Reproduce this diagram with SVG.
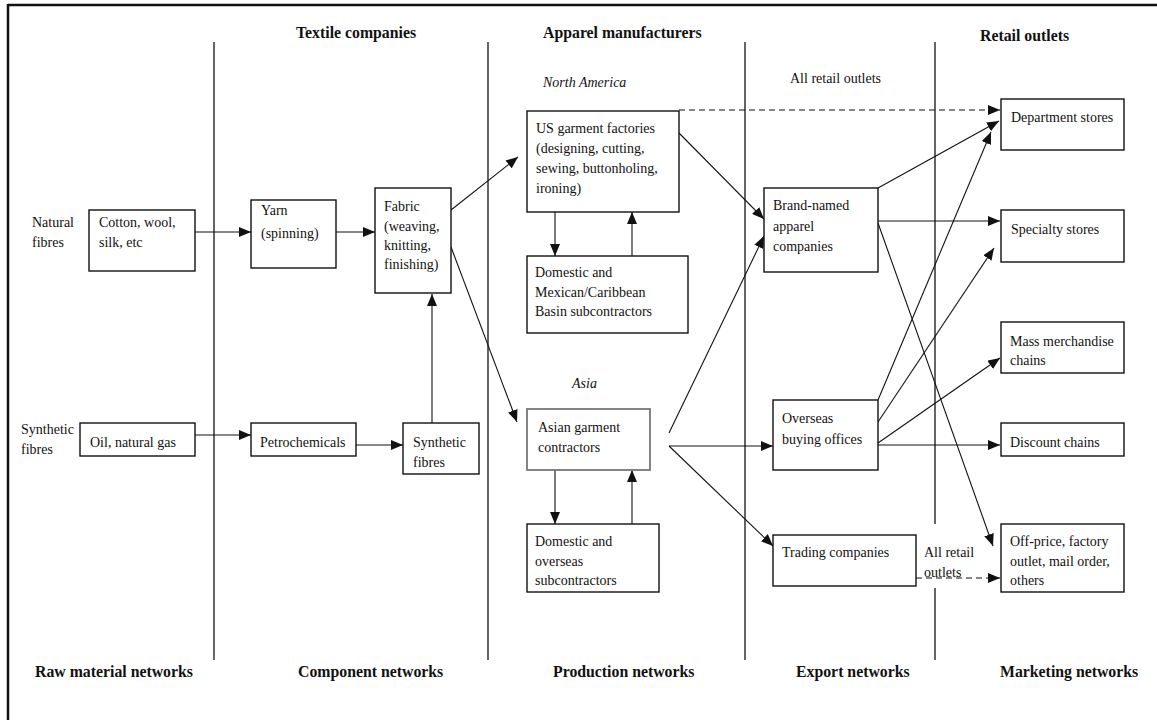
<svg xmlns="http://www.w3.org/2000/svg" width="1157" height="720" viewBox="0 0 1157 720">
<style>
text{font-family:"Liberation Serif","Times New Roman",serif;font-size:14px;fill:#111}
.h{font-weight:bold;font-size:15.8px}
.i{font-style:italic}
.box{fill:#fff;stroke:#111;stroke-width:1.4}
.gbox{fill:#fff;stroke:#777;stroke-width:1.8}
.div{stroke:#111;stroke-width:1.3;fill:none}
.c{stroke:#111;stroke-width:1.1;fill:none;marker-end:url(#ah)}
.d{stroke-dasharray:6 4}
</style>
<defs>
<marker id="ah" viewBox="0 0 12 10" refX="12" refY="5" markerWidth="12" markerHeight="10" markerUnits="userSpaceOnUse" orient="auto">
<path d="M0,0 L12,5 L0,10 z" fill="#111"/>
</marker>
</defs>
<rect width="1157" height="720" fill="#fff"/>
<g id="frame">
<line x1="8" y1="5" x2="1157" y2="5" stroke="#111" stroke-width="2.5"/>
<line x1="8" y1="4" x2="8" y2="720" stroke="#111" stroke-width="2.5"/>
</g>
<g id="dividers">
<line class="div" x1="214" y1="42" x2="214" y2="660"/>
<line class="div" x1="488" y1="42" x2="488" y2="660"/>
<line class="div" x1="745" y1="42" x2="745" y2="660"/>
<line class="div" x1="935" y1="42" x2="935" y2="660"/>
</g>
<g id="headers">
<text class="h" x="296" y="38">Textile companies</text>
<text class="h" x="543" y="38">Apparel manufacturers</text>
<text class="h" x="980" y="41">Retail outlets</text>
<text class="h" x="35" y="677">Raw material networks</text>
<text class="h" x="298" y="677">Component networks</text>
<text class="h" x="553" y="677">Production networks</text>
<text class="h" x="796" y="677">Export networks</text>
<text class="h" x="1000" y="677">Marketing networks</text>
<text class="i" x="543" y="87">North America</text>
<text class="i" x="572" y="388">Asia</text>
<text x="790" y="83">All retail outlets</text>
<text x="32" y="227">Natural</text>
<text x="32" y="247">fibres</text>
<text x="21" y="434">Synthetic</text>
<text x="21" y="454">fibres</text>
</g>
<rect x="921" y="524" width="56" height="64" fill="#fff"/>
<g id="connectors">
<path class="c" d="M195,232 H251"/>
<path class="c" d="M336,232 H375"/>
<path class="c" d="M195,435 H251"/>
<path class="c" d="M356,445 H403"/>
<path class="c" d="M432,423 V294"/>
<path class="c" d="M451,210 L518,157"/>
<path class="c" d="M451,247 L517,422"/>
<path class="c" d="M555,200 V256"/>
<path class="c" d="M632,256 V212"/>
<path class="c" d="M555,470 V524"/>
<path class="c" d="M632,524 V470"/>
<path class="c d" d="M679,110 H1000"/>
<path class="c" d="M679,133 L764,219"/>
<path class="c" d="M669,433 L764,236"/>
<path class="c" d="M669,446 H773"/>
<path class="c" d="M669,446 L773,546"/>
<path class="c" d="M878,188 L999,121"/>
<path class="c" d="M878,221 H1000"/>
<path class="c" d="M878,223 L993,546"/>
<path class="c" d="M878,400 L991,132"/>
<path class="c" d="M878,422 L994,248"/>
<path class="c" d="M878,443 L1000,358"/>
<path class="c" d="M878,445 H1000"/>
<path class="c d" d="M916,578 H1000"/>
</g>
<g id="cotton"><rect class="box" x="89" y="210" width="106" height="61"/><text x="99" y="227">Cotton, wool,</text><text x="99" y="247">silk, etc</text></g>
<g id="yarn"><rect class="box" x="251" y="200" width="85" height="68"/><text x="261" y="215">Yarn</text><text x="261" y="238">(spinning)</text></g>
<g id="fabric"><rect class="box" x="375" y="188" width="76" height="105"/><text x="384" y="211">Fabric</text><text x="384" y="231">(weaving,</text><text x="384" y="250">knitting,</text><text x="384" y="269">finishing)</text></g>
<g id="oil"><rect class="box" x="80" y="423" width="115" height="33"/><text x="90" y="447">Oil, natural gas</text></g>
<g id="petro"><rect class="box" x="251" y="423" width="105" height="33"/><text x="260" y="447">Petrochemicals</text></g>
<g id="synfib"><rect class="box" x="403" y="423" width="76" height="51"/><text x="413" y="447">Synthetic</text><text x="413" y="467">fibres</text></g>
<g id="us"><rect class="box" x="527" y="111" width="152" height="101"/><text x="536" y="133">US garment factories</text><text x="536" y="153">(designing, cutting,</text><text x="536" y="173">sewing, buttonholing,</text><text x="536" y="193">ironing)</text></g>
<g id="dommex"><rect class="box" x="527" y="256" width="161" height="77"/><text x="535" y="277">Domestic and</text><text x="535" y="297">Mexican/Caribbean</text><text x="535" y="316">Basin subcontractors</text></g>
<g id="asian"><rect class="gbox" x="527" y="409" width="123" height="61"/><text x="538" y="432">Asian garment</text><text x="538" y="452">contractors</text></g>
<g id="domover"><rect class="box" x="527" y="524" width="132" height="68"/><text x="535" y="546">Domestic and</text><text x="535" y="566">overseas</text><text x="535" y="585">subcontractors</text></g>
<g id="brand"><rect class="box" x="764" y="188" width="114" height="84"/><text x="773" y="210">Brand-named</text><text x="773" y="231">apparel</text><text x="773" y="251">companies</text></g>
<g id="overseas"><rect class="box" x="773" y="400" width="105" height="70"/><text x="782" y="423">Overseas</text><text x="782" y="444">buying offices</text></g>
<g id="trading"><rect class="box" x="773" y="535" width="143" height="51"/><text x="782" y="557">Trading companies</text></g>
<g id="allretail2"><text x="924" y="557">All retail</text><text x="924" y="577">outlets</text></g>
<g id="dept"><rect class="box" x="1001" y="99" width="123" height="51"/><text x="1011" y="122">Department stores</text></g>
<g id="specialty"><rect class="box" x="1001" y="210" width="123" height="52"/><text x="1011" y="234">Specialty stores</text></g>
<g id="mass"><rect class="box" x="1001" y="322" width="123" height="51"/><text x="1010" y="346">Mass merchandise</text><text x="1010" y="365">chains</text></g>
<g id="discount"><rect class="box" x="1001" y="423" width="123" height="33"/><text x="1010" y="447">Discount chains</text></g>
<g id="offprice"><rect class="box" x="1001" y="524" width="123" height="68"/><text x="1010" y="546">Off-price, factory</text><text x="1010" y="566">outlet, mail order,</text><text x="1010" y="585">others</text></g>
</svg>
